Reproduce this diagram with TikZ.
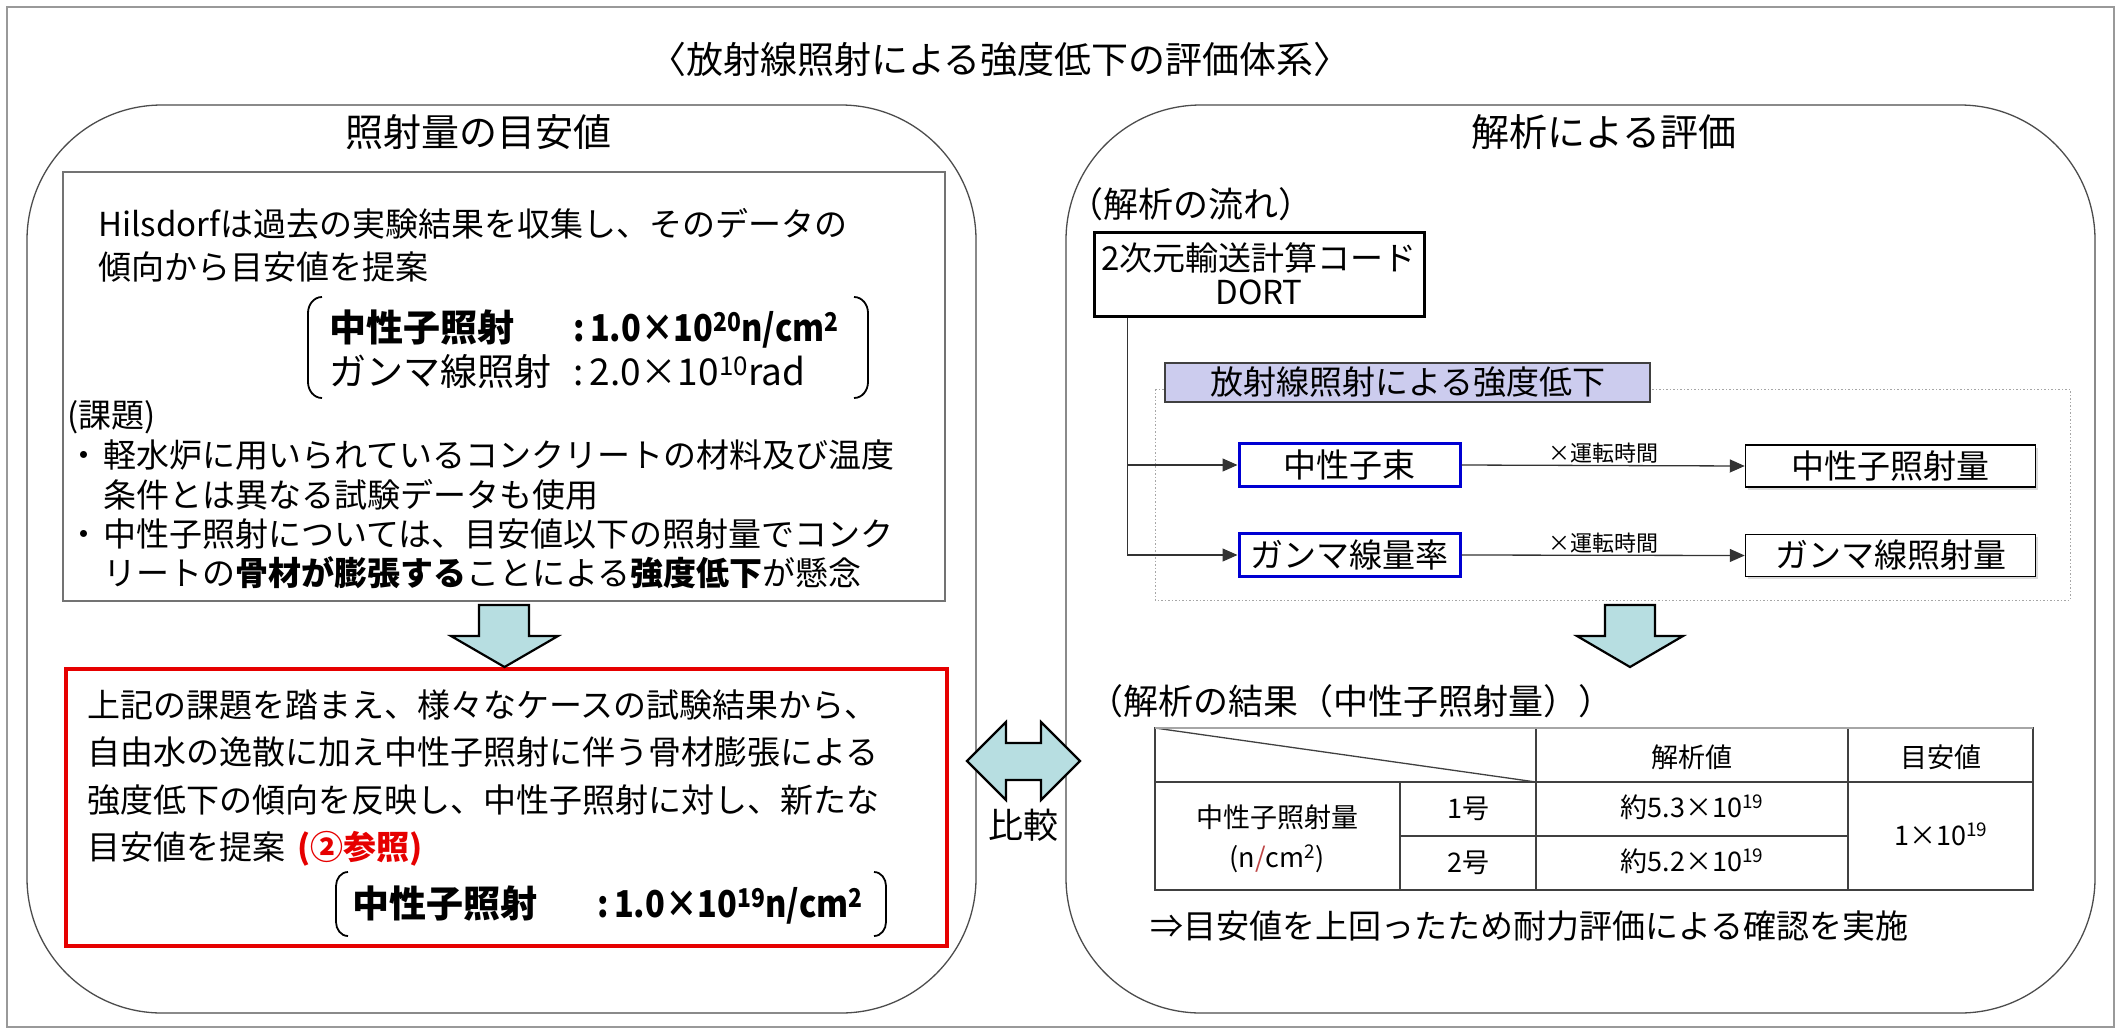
\documentclass[tikz,border=0pt]{standalone}
\usepackage{fontspec}
\setmainfont{Noto Sans CJK JP}
\usetikzlibrary{arrows.meta,shadows}
\definecolor{arrowfill}{RGB}{183,222,225}
\definecolor{lav}{RGB}{204,204,238}
\definecolor{rbox}{RGB}{230,0,0}
\definecolor{bbox}{RGB}{0,0,210}
\definecolor{slashred}{RGB}{190,70,70}
\newcommand\fs[1]{\fontsize{#1pt}{#1pt}\selectfont}
\newcommand\SUP[1]{\textsuperscript{#1}}
\newcommand\narrow[1]{\scalebox{0.88}[1]{#1}}
\begin{document}
\begin{tikzpicture}[x=1pt,y=-1pt,
  txt/.style={inner sep=0pt, anchor=base west},
  ctxt/.style={inner sep=0pt, anchor=base},
  tcell/.style={inner sep=0pt, font=\fs{27}},
  blockarrow/.style={draw=black, line width=2.2pt, fill=arrowfill, line join=miter},
  bluebox/.style={draw=bbox, line width=3pt, fill=white, inner sep=0pt, minimum width=221pt, minimum height=43pt, font=\fs{33}},
  resbox/.style={draw=black, line width=1.5pt, fill=white, inner sep=0pt, minimum width=290pt, minimum height=42pt, font=\fs{33}, drop shadow={shadow xshift=2.5pt, shadow yshift=-2.5pt, fill=gray!55}},
  conn/.style={line width=1.3pt, draw=black!80, -{Triangle[length=15pt,width=13pt]}},
  lbl/.style={inner sep=0pt, anchor=base, font=\fs{22}},
  tline/.style={line width=1.3pt, draw=black!75}
]
\useasboundingbox (0,0) rectangle (2123,1034);
% outer frame
\draw[gray!80, line width=1.2pt] (7,7) rectangle (2114,1027);
% title
\node[ctxt, font=\fs{37}] (title) at (1000,73) {〈放射線照射による強度低下の評価体系〉};
% rounded panels
\draw[black!70, line width=1.3pt, rounded corners=135pt] (27,105) rectangle (976,1013);
\draw[black!70, line width=1.3pt, rounded corners=135pt] (1066,105) rectangle (2095,1013);
\node[ctxt, font=\fs{38}] (hl) at (478,146) {照射量の目安値};
\node[ctxt, font=\fs{38}] (hr) at (1604,146) {解析による評価};

% ===== left panel =====
\draw[black!55, line width=1.2pt] (63,172) rectangle (945,601);
\node[txt, font=\fs{33}] (l1) at (98,236.5) {Hilsdorfは過去の実験結果を収集し、そのデータの};
\node[txt, font=\fs{33}] (l2) at (98,279.5) {傾向から目安値を提案};
% bracket block 1
\draw[line width=1.8pt] (322,297) to[out=180,in=90] (308,313) -- (308,382) to[out=-90,in=180] (322,398);
\draw[line width=1.8pt] (854,297) to[out=0,in=90] (868,313) -- (868,382) to[out=-90,in=0] (854,398);
\node[txt, font=\fs{37}\bfseries] (b1l) at (329,341) {中性子照射};
\node[txt, font=\fs{37}\bfseries] (b1v) at (573,341) {\narrow{:\,1.0×10\SUP{20}n/cm\SUP{2}}};
\node[txt, font=\fs{37}] (b2l) at (329,385) {ガンマ線照射};
\node[txt, font=\fs{37}] (b2v) at (573,385) {:\,2.0×10\SUP{10}rad};
% issues
\node[txt, font=\fs{33}] (k) at (67,427.5) {(課題)};
\node[ctxt, font=\fs{33}] (bu1) at (84,467.5) {・};
\node[txt, font=\fs{33}] (t1) at (103,467.5) {軽水炉に用いられているコンクリートの材料及び温度};
\node[txt, font=\fs{33}] (t2) at (103,507.5) {条件とは異なる試験データも使用};
\node[ctxt, font=\fs{33}] (bu2) at (84,546.5) {・};
\node[txt, font=\fs{33}] (t3) at (103,546.5) {中性子照射については、目安値以下の照射量でコンク};
\node[txt, font=\fs{33}] (t4) at (103,585.5) {リートの\textbf{骨材が膨張する}ことによる\textbf{強度低下}が懸念};

% red box
\draw[rbox, line width=4.5pt] (66,669) rectangle (947,946);
\draw[blockarrow] (479,605) -- (529,605) -- (529,636) -- (558,636) -- (504.5,667) -- (451,636) -- (479,636) -- cycle;
\node[txt, font=\fs{33}] (r1) at (87,717.5) {上記の課題を踏まえ、様々なケースの試験結果から、};
\node[txt, font=\fs{33}] (r2) at (87,764.5) {自由水の逸散に加え中性子照射に伴う骨材膨張による};
\node[txt, font=\fs{33}] (r3) at (87,812.5) {強度低下の傾向を反映し、中性子照射に対し、新たな};
\node[txt, font=\fs{33}] (r4) at (87,859.5) {目安値を提案\hspace{12pt}{\color{rbox}\bfseries(②参照)}};
\draw[line width=1.8pt] (348,872) to[out=180,in=90] (336,886) -- (336,922) to[out=-90,in=180] (348,936);
\draw[line width=1.8pt] (874,872) to[out=0,in=90] (886,886) -- (886,922) to[out=-90,in=0] (874,936);
\node[txt, font=\fs{37}\bfseries] (rbl) at (352,917) {中性子照射};
\node[txt, font=\fs{37}\bfseries] (rbv) at (597,917) {\narrow{:\,1.0×10\SUP{19}n/cm\SUP{2}}};

% double arrow
\draw[blockarrow] (967,761) -- (1006,722) -- (1006,743) -- (1041,743) -- (1041,722) -- (1080,761) -- (1041,800) -- (1041,780) -- (1006,780) -- (1006,800) -- cycle;
\node[ctxt, font=\fs{35}] (cmp) at (1023,838) {比較};

% ===== right panel =====
\node[txt, font=\fs{35}] (flow) at (1068,217) {（解析の流れ）};
\node[draw=black, line width=3pt, fill=white, inner sep=0pt, minimum width=330pt, minimum height=84pt, align=center, font=\fs{33}] (dort) at (1259,274) {2次元輸送計算コード\\[1pt]DORT};
\draw[gray!70, line width=1pt, dash pattern=on 1.5pt off 2pt] (1155,389) rectangle (2070,600);
\node[draw=black!75, line width=2pt, fill=lav, inner sep=0pt, minimum width=485pt, minimum height=39pt, font=\fs{33}] (rad) at (1407.5,382.5) {放射線照射による強度低下};
\node[bluebox] (nf) at (1349.5,465) {中性子束};
\node[bluebox] (gr) at (1349.5,555) {ガンマ線量率};
\node[resbox] (nd) at (1890.5,466) {中性子照射量};
\node[resbox] (gd) at (1890.5,555.5) {ガンマ線照射量};
\draw[conn] (dort.south west) ++(35,0) |- (nf.west);
\draw[conn] (dort.south west) ++(35,0) |- (gr.west);
\draw[conn] (nf.east) -- node[lbl, yshift=4pt] {×運転時間} (nd.west);
\draw[conn] (gr.east) -- node[lbl, yshift=4pt] {×運転時間} (gd.west);

% second down arrow
\draw[blockarrow] (1605,605) -- (1655,605) -- (1655,636) -- (1683,636) -- (1630,667) -- (1577,636) -- (1605,636) -- cycle;

\node[txt, font=\fs{35}] (res) at (1088,714) {（解析の結果（中性子照射量））};

% table
\draw[tline] (1155,782) -- (2033,782);
\draw[tline] (1400,836) -- (1848,836);
\draw[tline] (1400,782) -- (1400,890);
\draw[tline] (1536,728) -- (1536,890);
\draw[tline] (1848,728) -- (1848,890);
\draw[tline] (1155,728) -- (1536,782);
\draw[black!75, line width=1.6pt] (1155,728) rectangle (2033,890);
\draw[gray!70, line width=2.2pt] (1155,728) -- (2033,728);
\node[tcell] (h1) at (1692,757) {解析値};
\node[tcell] (h2) at (1941,757) {目安値};
\node[tcell] (c1) at (1277,817) {中性子照射量};
\node[tcell] (c1b) at (1277,859) {(n{\color{slashred}/}cm\SUP{2})};
\node[tcell] (n1) at (1468,809) {1号};
\node[tcell] (n2) at (1468,863) {2号};
\node[tcell] (v1) at (1692,807) {約5.3×10\SUP{19}};
\node[tcell] (v2) at (1692,861) {約5.2×10\SUP{19}};
\node[tcell] (g1) at (1941,834) {1×10\SUP{19}};

\node[txt, font=\fs{33}] (concl) at (1150,938) {⇒目安値を上回ったため耐力評価による確認を実施};
\end{tikzpicture}
\end{document}
